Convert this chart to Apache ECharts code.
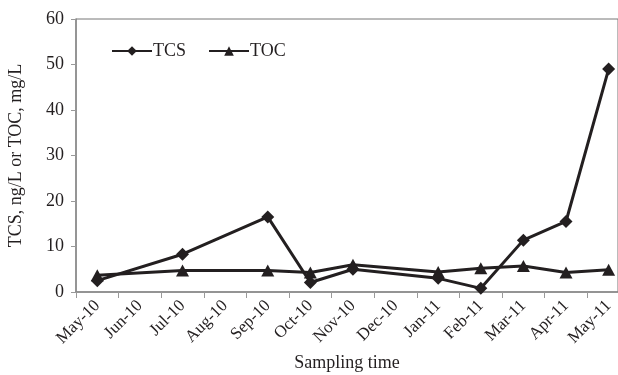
<!DOCTYPE html>
<html>
<head>
<meta charset="utf-8">
<script src="https://cdn.jsdelivr.net/npm/echarts@6/dist/echarts.min.js"></script>
<style>
html,body{margin:0;padding:0;background:#fff;}
#c{width:618px;height:375px;}
</style>
</head>
<body>
<div id="c"></div>
<script>
var months = ['May-10','Jun-10','Jul-10','Aug-10','Sep-10','Oct-10','Nov-10','Dec-10','Jan-11','Feb-11','Mar-11','Apr-11','May-11'];
var tcs = [2.5, null, 8.3, null, 16.5, 2.1, 5.0, null, 3.0, 0.8, 11.4, 15.5, 49.0];
var toc = [3.7, null, 4.7, null, 4.7, 4.3, 6.0, null, 4.4, 5.2, 5.7, 4.3, 4.9];
var yTicks = {min: 0, max: 60, interval: 10};

function pairs(arr) {
  var out = [];
  for (var i = 0; i < arr.length; i++) if (arr[i] !== null) out.push([i, arr[i]]);
  return out;
}

var FONT = '"Liberation Serif", "DejaVu Serif", serif';
var INK = '#231f20';
var X_MIN = -0.5, X_MAX = 12.22; // plot area is cropped on the right as in the source
var chart = echarts.init(document.getElementById('c'), null, {renderer: 'canvas'});
chart.setOption({
  animation: false,
  backgroundColor: '#fff',
  textStyle: {fontFamily: FONT, color: INK},
  grid: {left: 76, top: 19, bottom: 83, right: 0, outerBoundsMode: 'none', containLabel: false,
         show: true, borderColor: '#777', borderWidth: 1, backgroundColor: 'transparent'},
  legend: {
    left: 106, top: 37,
    itemWidth: 40, itemHeight: 12, itemGap: 22,
    textStyle: {fontFamily: FONT, fontSize: 18, color: INK, padding: [0,0,0,-4]},
    data: ['TCS', 'TOC']
  },
  xAxis: [
    {
      type: 'value', position: 'bottom',
      min: X_MIN, max: X_MAX, interval: 1,
      splitLine: {show: false},
      axisLine: {show: true, onZero: false, lineStyle: {color: '#888', width: 1.5}},
      axisTick: {show: true, length: 6, lineStyle: {color: '#999'}},
      axisLabel: {show: false},
      name: 'Sampling time',
      nameLocation: 'middle',
      nameGap: 62,
      nameTextStyle: {fontFamily: FONT, fontSize: 18, color: INK}
    },
    {
      type: 'value', position: 'bottom',
      min: X_MIN, max: X_MAX, interval: 0.5,
      splitLine: {show: false},
      axisLine: {show: false, onZero: false},
      axisTick: {show: false},
      axisLabel: {
        show: true, rotate: 45, fontFamily: FONT, fontSize: 17, color: INK, margin: 11,
        showMinLabel: true, showMaxLabel: true,
        formatter: function (v) {
          var r = Math.round(v);
          if (Math.abs(v - r) > 1e-6 || r < 0 || r >= months.length) return '';
          return months[r];
        }
      }
    }
  ],
  yAxis: {
    type: 'value',
    min: yTicks.min, max: yTicks.max, interval: yTicks.interval,
    name: 'TCS, ng/L or TOC, mg/L',
    nameLocation: 'middle',
    nameGap: 51,
    nameTextStyle: {fontFamily: FONT, fontSize: 18, color: INK},
    splitLine: {show: false},
    axisLine: {show: true, onZero: false, lineStyle: {color: '#888', width: 1.5}},
    axisTick: {show: true, length: 5, lineStyle: {color: '#999'}},
    axisLabel: {fontFamily: FONT, fontSize: 18, color: INK, margin: 12}
  },
  series: [
    {
      name: 'TCS', type: 'line', data: pairs(tcs), xAxisIndex: 0,
      symbol: 'diamond', symbolSize: [13, 13], showAllSymbol: true, clip: false,
      lineStyle: {color: INK, width: 3},
      itemStyle: {color: INK, borderWidth: 0},
      z: 3
    },
    {
      name: 'TOC', type: 'line', data: pairs(toc), xAxisIndex: 0,
      symbol: 'triangle', symbolSize: [13, 12], showAllSymbol: true, clip: false,
      lineStyle: {color: INK, width: 3},
      itemStyle: {color: INK, borderWidth: 0},
      z: 2
    }
  ]
});
</script>
</body>
</html>
